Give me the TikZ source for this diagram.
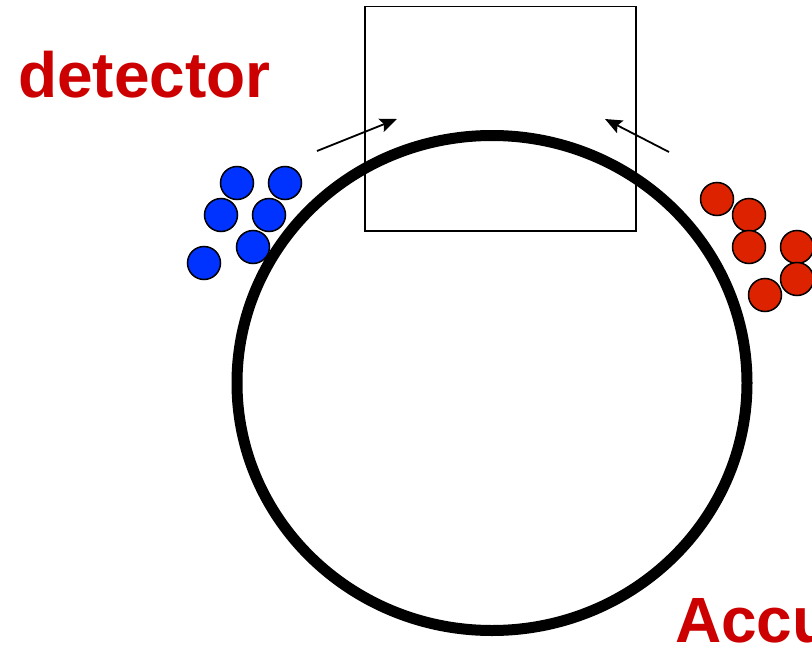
\documentclass[tikz,border=0pt]{standalone}
\usepackage{fontspec}
\setmainfont{Liberation Sans}
\usepackage{tikz}
\usetikzlibrary{shapes.geometric, arrows.meta, positioning}
\definecolor{labelred}{HTML}{CC0000}
\definecolor{beamblue}{HTML}{0033FF}
\definecolor{beamred}{HTML}{DD2200}
\tikzstyle{bunch} = [circle, minimum size=33pt, inner sep=0pt, draw=black, line width=1.5pt]
\tikzstyle{blueb} = [bunch, fill=beamblue]
\tikzstyle{redb} = [bunch, fill=beamred]
\tikzstyle{biglabel} = [text=labelred, font=\fontsize{64}{64}\selectfont\bfseries, inner sep=0pt]

\begin{document}
\begin{tikzpicture}[x=1pt, y=-1pt]
		\useasboundingbox (0,0) rectangle (812,653);
		% ring and detector box
		\node (Ring)[ellipse, minimum width=510pt, minimum height=495pt, draw=black, line width=11pt, inner sep=0pt] at (492,383){};
		\node (Detector)[rectangle, minimum width=271pt, minimum height=224.5pt, draw=black, line width=1.5pt, inner sep=0pt] at (500.5,118.75){};
		\node (Label)[biglabel, anchor=base west] at (18,97){detector};
		\node (Ring Label)[biglabel, anchor=base west] at (675,642){Accu};
		% bunches
		\node (B1)[blueb] at (237,183){};
		\node (B2)[blueb] at (285,183){};
		\node (B3)[blueb] at (221,215){};
		\node (B4)[blueb] at (269,215){};
		\node (B5)[blueb] at (253,247){};
		\node (B6)[blueb] at (204,263){};
		\node (R1)[redb] at (717,199){};
		\node (R2)[redb] at (749,215){};
		\node (R3)[redb] at (749,247){};
		\node (R4)[redb] at (797,247){};
		\node (R5)[redb] at (797,279){};
		\node (R6)[redb] at (765,295){};
		% directions
		\coordinate (Left Tail) at (317,151);
		\coordinate (Left Tip) at (397,119);
		\coordinate (Right Tail) at (669,152);
		\coordinate (Right Tip) at (605,119);
		\draw [-{Stealth[length=17pt, width=14pt, inset=3pt]}, line width=1.8pt] (Left Tail) -- (Left Tip);
		\draw [-{Stealth[length=17pt, width=14pt, inset=3pt]}, line width=1.8pt] (Right Tail) -- (Right Tip);
	\end{tikzpicture}
\end{document}
